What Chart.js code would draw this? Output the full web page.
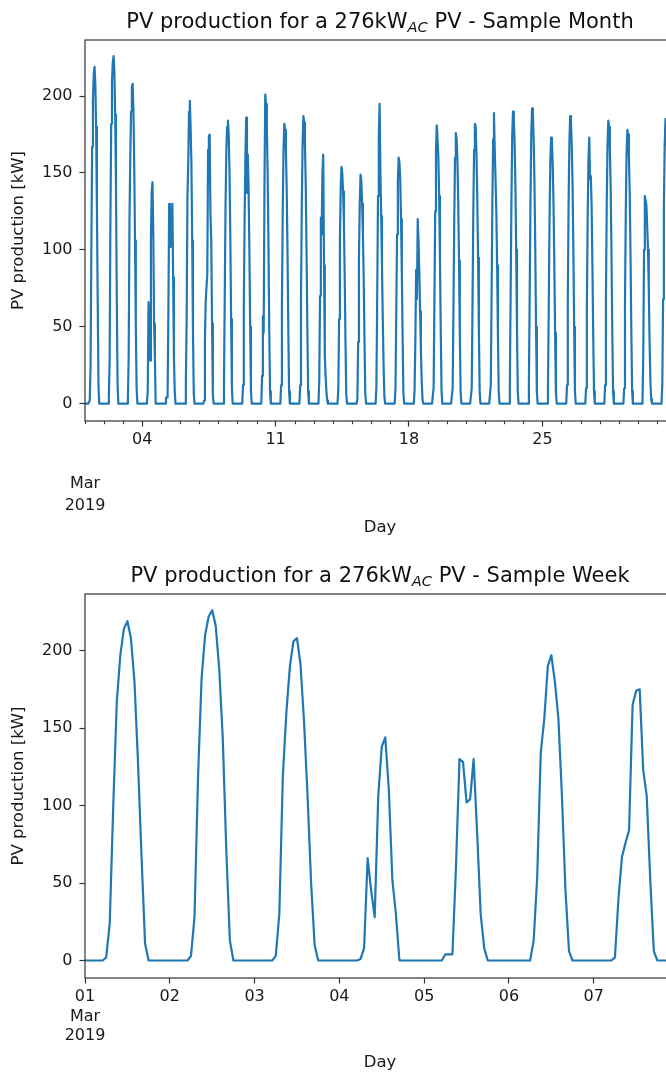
<!DOCTYPE html>
<html>
<head>
<meta charset="utf-8">
<script src="https://cdn.jsdelivr.net/npm/chart.js@4.4.1/dist/chart.umd.min.js"></script>
<style>
html,body{margin:0;padding:0;width:666px;height:1075px;overflow:hidden;background:#fff;}
canvas{position:absolute;left:0;}
#c1{top:0;}
#c2{top:545px;}
.ttl{position:absolute;left:0;width:760px;text-align:center;font-family:"DejaVu Sans";font-size:21px;line-height:21px;color:#111;white-space:nowrap;}
.ttl i{font-size:14.7px;position:relative;top:4px;}
</style>
</head>
<body>
<canvas id="c1" width="700" height="545"></canvas>
<canvas id="c2" width="700" height="530"></canvas>
<div class="ttl" style="top:10.5px">PV production for a 276kW<i>AC</i> PV - Sample Month</div>
<div class="ttl" style="top:564.5px">PV production for a 276kW<i>AC</i> PV - Sample Week</div>
<script>
// ---- data: hourly PV production (kW), hours 06:00 .. 18:00 of each day; other hours are 0 ----
const profileStartHour = 6;
const mar01 = [2, 24, 100, 167, 197, 214, 219, 208, 180, 128, 67, 11, 0];
const mar02 = [3, 28, 119, 182, 210, 222, 226, 216, 188, 143, 71, 13, 0];
const mar03 = [3, 30, 119, 160, 190, 206, 208, 191, 154, 106, 50, 10, 0];
const mar04 = [1, 8, 66, 45, 28, 106, 138, 144, 110, 52, 30, 0, 0];
const mar05 = [4, 4, 4, 60, 130, 128, 102, 104, 130, 82, 30, 8, 0];
const mar06 = [0, 13, 54, 134, 156, 190, 197, 180, 156, 106, 45, 6, 0];
const mar07 = [2, 40, 67, 76, 84, 165, 174, 175, 123, 106, 52, 6, 0];
const mar08 = [0, 15, 70, 130, 165, 180, 184, 175, 150, 110, 55, 10, 0];
const mar09 = [0, 12, 65, 120, 160, 186, 137, 162, 140, 100, 50, 8, 0];
const mar10 = [0, 18, 57, 46, 140, 201, 195, 180, 150, 105, 50, 8, 0];
const mar11 = [0, 12, 65, 125, 165, 182, 178, 165, 140, 100, 50, 8, 0];
const mar12 = [0, 12, 68, 128, 168, 187, 183, 168, 142, 100, 50, 8, 0];
const mar13 = [0, 15, 70, 121, 110, 150, 162, 90, 31, 18, 8, 2, 0];
const mar14 = [0, 10, 55, 105, 140, 154, 150, 138, 118, 85, 42, 6, 0];
const mar15 = [0, 3, 40, 95, 130, 149, 145, 130, 110, 80, 40, 6, 0];
const mar16 = [0, 12, 70, 135, 175, 195, 150, 122, 90, 55, 25, 5, 0];
const mar17 = [0, 10, 60, 110, 145, 160, 157, 145, 120, 85, 42, 6, 0];
const mar18 = [0, 8, 40, 87, 68, 120, 106, 85, 60, 35, 15, 3, 0];
const mar19 = [0, 10, 65, 125, 165, 181, 172, 160, 135, 95, 48, 8, 0];
const mar20 = [0, 10, 62, 120, 160, 176, 172, 158, 132, 93, 46, 8, 0];
const mar21 = [0, 10, 65, 125, 165, 182, 180, 162, 135, 95, 48, 8, 0];
const mar22 = [0, 12, 68, 130, 172, 189, 165, 146, 125, 90, 45, 8, 0];
const mar23 = [0, 12, 70, 132, 174, 190, 186, 170, 143, 100, 50, 8, 0];
const mar24 = [0, 12, 70, 133, 176, 192, 188, 172, 145, 102, 50, 8, 0];
const mar25 = [0, 10, 62, 120, 158, 173, 170, 155, 130, 92, 46, 8, 0];
const mar26 = [0, 12, 68, 130, 170, 187, 183, 168, 142, 100, 50, 8, 0];
const mar27 = [0, 10, 62, 120, 158, 173, 146, 148, 128, 90, 45, 8, 0];
const mar28 = [0, 12, 67, 128, 168, 184, 180, 165, 140, 98, 48, 8, 0];
const mar29 = [0, 10, 65, 124, 163, 178, 175, 160, 136, 96, 47, 8, 0];
const mar30 = [0, 30, 100, 135, 132, 129, 115, 100, 74, 40, 15, 3, 0];
const mar31 = [0, 12, 68, 128, 168, 185, 181, 166, 140, 98, 48, 8, 0];

const monthDays = [mar01, mar02, mar03, mar04, mar05, mar06, mar07, mar08, mar09, mar10,
  mar11, mar12, mar13, mar14, mar15, mar16, mar17, mar18, mar19, mar20,
  mar21, mar22, mar23, mar24, mar25, mar26, mar27, mar28, mar29, mar30, mar31];
const weekDays = [mar01, mar02, mar03, mar04, mar05, mar06, mar07];

const monthLabelDays = [4, 11, 18, 25];
const weekLabelDays = [1, 2, 3, 4, 5, 6, 7];
const yTickValues = [0, 50, 100, 150, 200];
const yMin = -11.3, yMax = 236.5;

// ---- build hourly series from the daily profiles ----
function toHourly(days) {
  const pts = [];
  days.forEach((prof, d) => {
    for (let h = 0; h < 24; h++) {
      const i = h - profileStartHour;
      pts.push({x: d * 24 + h, y: (i >= 0 && i < prof.length) ? prof[i] : 0});
    }
  });
  return pts;
}
const pad2 = n => String(n).padStart(2, '0');
const FONT = 'DejaVu Sans';
const TXT = '#1a1a1a';
const SPINE = '#333';

const framePlugin = {
  id: 'frame',
  afterDatasetsDraw(chart) {
    const {ctx, chartArea: a} = chart;
    ctx.save();
    ctx.strokeStyle = SPINE;
    ctx.lineWidth = 1.2;
    ctx.strokeRect(a.left, a.top, a.right - a.left, a.bottom - a.top);
    ctx.restore();
  }
};
const minorTickPlugin = {
  id: 'minorTicks',
  afterDraw(chart, args, opts) {
    if (!opts || !opts.values) return;
    const {ctx, scales: {x}} = chart;
    ctx.save();
    ctx.strokeStyle = SPINE;
    ctx.lineWidth = 1.1;
    opts.values.forEach(v => {
      const px = Math.round(x.getPixelForValue(v)) + 0.5;
      ctx.beginPath();
      ctx.moveTo(px, x.top);
      ctx.lineTo(px, x.top + 3.2);
      ctx.stroke();
    });
    ctx.restore();
  }
};

function makeChart(id, days, cfg) {
  const nHours = days.length * 24;
  return new Chart(document.getElementById(id), {
    type: 'line',
    data: {
      datasets: [{
        data: toHourly(days),
        borderColor: '#1f77b4',
        borderWidth: 2.2,
        pointRadius: 0,
        tension: 0,
        fill: false,
        borderJoinStyle: 'round',
        borderCapStyle: 'square'
      }]
    },
    options: {
      responsive: false,
      animation: false,
      devicePixelRatio: 1,
      layout: {padding: {left: 0, right: 25, top: cfg.top, bottom: 0}},
      plugins: {
        legend: {display: false},
        tooltip: {enabled: false},
        minorTicks: {values: cfg.minor}
      },
      scales: {
        x: {
          type: 'linear', min: 0, max: nHours - 1,
          afterBuildTicks: s => { s.ticks = cfg.major.map(v => ({value: v})); },
          afterFit: s => { s.height = cfg.xHeight; },
          ticks: {
            autoSkip: false, maxRotation: 0, minRotation: 0, padding: 4, color: TXT,
            font: ctx => ({family: FONT, size: 16,
              lineHeight: (ctx.tick && ctx.tick.value === 0) ? cfg.firstLH : 1.2}),
            callback: v => cfg.label(v)
          },
          grid: {
            drawOnChartArea: false, drawTicks: true, tickLength: 5.5, tickWidth: 1.2,
            tickColor: ctx => (ctx.tick && cfg.hideTick.includes(ctx.tick.value)) ? 'rgba(0,0,0,0)' : SPINE
          },
          border: {display: false},
          title: {display: true, text: 'Day', color: TXT, font: {family: FONT, size: 16.5},
            padding: {top: 0, bottom: cfg.dayPad}}
        },
        y: {
          type: 'linear', min: yMin, max: yMax,
          afterBuildTicks: s => { s.ticks = yTickValues.map(v => ({value: v})); },
          afterFit: s => { s.width = 85; },
          ticks: {padding: 7, color: TXT, font: {family: FONT, size: 16}},
          grid: {drawOnChartArea: false, drawTicks: true, tickLength: 5.5, tickWidth: 1.2, tickColor: SPINE},
          border: {display: false},
          title: {display: true, text: 'PV production [kW]', color: TXT, font: {family: FONT, size: 16.5},
            padding: {top: 9, bottom: 0}}
        }
      }
    },
    plugins: [framePlugin, minorTickPlugin]
  });
}

// month chart
const monthMajor = [0].concat(monthLabelDays.map(d => (d - 1) * 24));
const monthMinor = monthDays.map((_, i) => i * 24).filter(v => !monthLabelDays.map(d => (d - 1) * 24).includes(v));
makeChart('c1', monthDays, {
  top: 40, xHeight: 124, dayPad: 7.1, firstLH: '21.4px',
  major: monthMajor, minor: monthMinor, hideTick: [0],
  label: v => v === 0 ? ['', '', 'Mar', '2019'] : pad2(v / 24 + 1)
});

// week chart
makeChart('c2', weekDays, {
  top: 49, xHeight: 97, dayPad: 2.1, firstLH: '19.5px',
  major: weekLabelDays.map(d => (d - 1) * 24), minor: null, hideTick: [],
  label: v => v === 0 ? ['01', 'Mar', '2019'] : pad2(v / 24 + 1)
});
</script>
</body>
</html>
